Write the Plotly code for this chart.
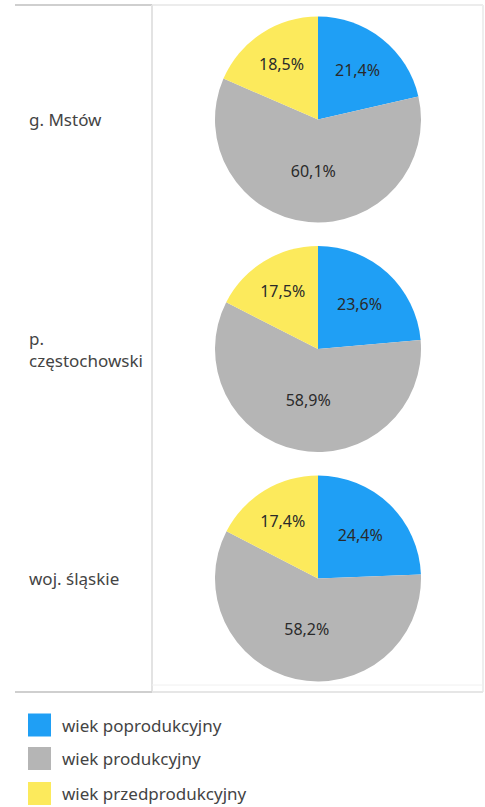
"""Age structure pies: gmina Mstów vs powiat and voivodeship."""

import plotly.graph_objects as go

W, H = 485, 807

regions = ["g. Mstów", "p.<br>częstochowski", "woj. śląskie"]
age_groups = ["wiek poprodukcyjny", "wiek produkcyjny", "wiek przedprodukcyjny"]
colors = ["#1f9ff5", "#b5b5b5", "#fcea5c"]

post_working = [21.4, 23.6, 24.4]
working = [60.1, 58.9, 58.2]
pre_working = [18.5, 17.5, 17.4]

FONT = "Noto Sans, Open Sans, sans-serif"


def px_x(x):
    return x / W


def px_y(y):
    # pixel from top -> paper coordinate
    return 1 - y / H


fig = go.Figure()

pie_cx, pie_r = 318, 103
pie_cy = [119.5, 349, 578.5]

for i, region in enumerate(regions):
    cy = pie_cy[i]
    fig.add_trace(
        go.Pie(
            labels=age_groups,
            values=[post_working[i], working[i], pre_working[i]],
            name=region.replace("<br>", " "),
            sort=False,
            direction="clockwise",
            rotation=0,
            marker=dict(colors=colors, line=dict(width=0)),
            texttemplate="%{value:.1f}%",
            textposition="inside",
            insidetextorientation="horizontal",
            insidetextfont=dict(color="#2a2a2a", size=16, family=FONT),
            hoverinfo="label+value",
            showlegend=False,
            domain=dict(
                x=[px_x(pie_cx - pie_r), px_x(pie_cx + pie_r)],
                y=[px_y(cy + pie_r), px_y(cy - pie_r)],
            ),
        )
    )
    fig.add_annotation(
        x=px_x(27), y=px_y(cy), xref="paper", yref="paper",
        text=region, showarrow=False, xanchor="left", yanchor="middle",
        align="left", font=dict(size=17, color="#444444", family=FONT),
    )

# table-like frame lines
shapes = [
    dict(x0=15, x1=152, y0=5, y1=5, color="#cfcfcf", w=2),
    dict(x0=152, x1=483, y0=5, y1=5, color="#ececec", w=2),
    dict(x0=152, x1=152, y0=5, y1=692, color="#e3e3e3", w=2),
    dict(x0=483, x1=483, y0=5, y1=692, color="#eeeeee", w=2),
    dict(x0=152, x1=483, y0=685, y1=685, color="#f0f0f0", w=1),
    dict(x0=15, x1=152, y0=692, y1=692, color="#cfcfcf", w=2),
    dict(x0=152, x1=483, y0=692, y1=692, color="#e6e6e6", w=2),
]
for s in shapes:
    fig.add_shape(
        type="line", xref="paper", yref="paper",
        x0=px_x(s["x0"]), x1=px_x(s["x1"]), y0=px_y(s["y0"]), y1=px_y(s["y1"]),
        line=dict(color=s["color"], width=s["w"]),
    )

# legend drawn as squares + labels
legend_rows = [725, 758.5, 793.5]
for name, col, ly in zip(age_groups, colors, legend_rows):
    fig.add_shape(
        type="rect", xref="paper", yref="paper",
        x0=px_x(28), x1=px_x(51), y0=px_y(ly + 11.5), y1=px_y(ly - 11.5),
        fillcolor=col, line=dict(width=0),
    )
    fig.add_annotation(
        x=px_x(60), y=px_y(ly), xref="paper", yref="paper",
        text=name, showarrow=False, xanchor="left", yanchor="middle",
        font=dict(size=17, color="#444444", family=FONT),
    )

fig.update_layout(
    width=W,
    height=H,
    margin=dict(l=0, r=0, t=0, b=0),
    paper_bgcolor="white",
    plot_bgcolor="white",
    separators=", ",
    showlegend=False,
)

# drop the default 8px body margin so the figure fills the window
fig.write_html(
    "out.html",
    config={"displayModeBar": False},
    post_script="document.body.style.margin='0';document.body.style.overflow='hidden';",
)
